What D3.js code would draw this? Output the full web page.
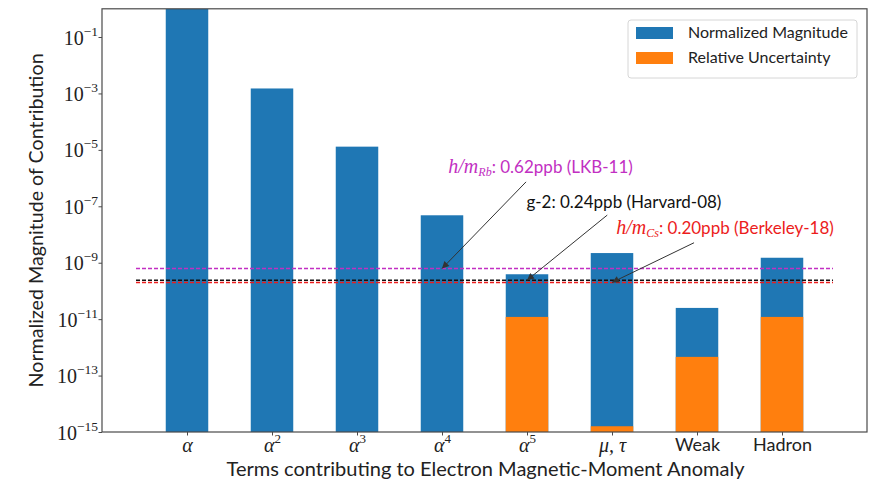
<!DOCTYPE html>
<html>
<head>
<meta charset="utf-8">
<script src="https://cdn.jsdelivr.net/npm/d3@7/dist/d3.min.js"></script>
<style>
  body { margin: 0; background: #fff; }
  svg { display: block; }
</style>
</head>
<body>
<svg id="chart" width="876" height="479"></svg>
<script>
// Terms of the electron anomaly ("^" marks an exponent)
const terms = ["α", "α^2", "α^3", "α^4", "α^5", "μ, τ", "Weak", "Hadron"];
// Size of each term relative to the full anomaly
const magnitude = [1, 1.5e-3, 1.3e-5, 4.8e-8, 3.9e-10, 2.2e-9, 2.5e-11, 1.5e-9];
// Relative uncertainty of each term (null where none is shown)
const uncertainty = [null, null, null, null, 1.2e-11, 1.6e-15, 4.6e-13, 1.2e-11];
// Labelled decades on the log axis
const yTickValues = [1e-1, 1e-3, 1e-5, 1e-7, 1e-9, 1e-11, 1e-13, 1e-15];

// Reference precisions (fraction), with their labels
const refValues = [6.2e-10, 2.4e-10, 2.0e-10];
const refColors = ["#c22fc2", "#111111", "#ec1c1c"];
const refMath = ["Rb", null, "Cs"];
const refText = [": 0.62ppb (LKB-11)", "g-2: 0.24ppb (Harvard-08)", ": 0.20ppb (Berkeley-18)"];
const refTarget = [3, 4, 5];
const refTextX = [4.16, 5.14, 6.33];
const refTextY = [2.3e-6, 1.3e-7, 1.6e-8];
const refSpan = [-0.6, 7.6];

const seriesNames = ["Normalized Magnitude", "Relative Uncertainty"];
const seriesColors = ["#1f77b4", "#ff7f0e"];

const svg = d3.select("#chart");
const M = { left: 102, right: 867, top: 8.8, bottom: 432 };

const x = d3.scaleLinear().domain([-1, 8]).range([M.left, M.right]);
const y = d3.scaleLog().domain([1e-15, 1]).range([M.bottom, M.top]);
const barW = x(0.5) - x(0);

const serif = "'Liberation Serif', 'DejaVu Serif', serif";
const sans = "Lato, 'Open Sans', 'DejaVu Sans', sans-serif";

const defs = svg.append("defs");
defs.append("clipPath").attr("id", "plot-clip")
  .append("rect").attr("x", M.left).attr("y", M.top)
  .attr("width", M.right - M.left).attr("height", M.bottom - M.top);

const plot = svg.append("g").attr("clip-path", "url(#plot-clip)");

// Blue magnitude bars
plot.selectAll("rect.mag").data(magnitude).join("rect")
  .attr("class", "mag")
  .attr("x", (d, i) => x(i) - barW / 2)
  .attr("width", barW)
  .attr("y", d => y(d))
  .attr("height", d => M.bottom - y(d))
  .attr("fill", seriesColors[0]);

// Orange uncertainty bars overlaid from the baseline
const uncData = uncertainty.map((v, i) => ({ v, i })).filter(d => d.v !== null);
plot.selectAll("rect.unc").data(uncData).join("rect")
  .attr("class", "unc")
  .attr("x", d => x(d.i) - barW / 2)
  .attr("width", barW)
  .attr("y", d => y(d.v))
  .attr("height", d => M.bottom - y(d.v))
  .attr("fill", seriesColors[1]);

// Dashed reference lines
plot.selectAll("line.ref").data(refValues).join("line")
  .attr("class", "ref")
  .attr("x1", x(refSpan[0])).attr("x2", x(refSpan[1]))
  .attr("y1", d => y(d)).attr("y2", d => y(d))
  .attr("stroke", (d, i) => refColors[i])
  .attr("stroke-width", 1.5)
  .attr("stroke-dasharray", "4,2");

// Frame
svg.append("rect").attr("x", M.left).attr("y", M.top)
  .attr("width", M.right - M.left).attr("height", M.bottom - M.top)
  .attr("fill", "none").attr("stroke", "#4a4a4a").attr("stroke-width", 1.2);

// Y axis
const yAxis = d3.axisLeft(y).tickValues(yTickValues).tickSize(3.5).tickFormat(() => "");
const yG = svg.append("g").attr("transform", `translate(${M.left},0)`).call(yAxis);
yG.select(".domain").remove();
yG.selectAll(".tick line").attr("stroke", "#4a4a4a");
yG.selectAll(".tick").each(function (d) {
  const t = d3.select(this).append("text")
    .attr("x", -4).attr("y", 7).attr("text-anchor", "end")
    .attr("fill", "#222").attr("font-family", serif).attr("font-size", 20);
  t.append("tspan").text("10");
  t.append("tspan").attr("font-size", 13.5).attr("dy", -9)
    .text("−" + Math.round(-Math.log10(d)));
});

// X axis
const xAxis = d3.axisBottom(x).tickValues(d3.range(terms.length)).tickSize(3.5).tickFormat(() => "");
const xG = svg.append("g").attr("transform", `translate(0,${M.bottom})`).call(xAxis);
xG.select(".domain").remove();
xG.selectAll(".tick line").attr("stroke", "#4a4a4a");
xG.selectAll(".tick").each(function (d) {
  const label = terms[d];
  const isMath = !/^[A-Z]/.test(label);
  const t = d3.select(this).append("text")
    .attr("y", 20).attr("text-anchor", "middle").attr("fill", "#222");
  if (isMath) {
    const [base, pow] = label.split("^");
    t.attr("font-family", serif).attr("font-size", 20);
    t.append("tspan").attr("font-style", "italic").text(base);
    if (pow) t.append("tspan").attr("font-size", 13).attr("dy", -9).text(pow);
  } else {
    t.attr("font-family", sans).attr("font-size", 18).attr("y", 19).text(label);
  }
});

// Axis titles
svg.append("text")
  .attr("x", (M.left + M.right) / 2 + 1).attr("y", 476)
  .attr("text-anchor", "middle").attr("font-family", sans).attr("font-size", 19)
  .attr("fill", "#222")
  .attr("textLength", 518).attr("lengthAdjust", "spacingAndGlyphs")
  .text("Terms contributing to Electron Magnetic-Moment Anomaly");

svg.append("text")
  .attr("transform", `translate(43,${(M.top + M.bottom) / 2}) rotate(-90)`)
  .attr("text-anchor", "middle").attr("font-family", sans).attr("font-size", 20)
  .attr("fill", "#222")
  .attr("textLength", 334).attr("lengthAdjust", "spacingAndGlyphs")
  .text("Normalized Magnitude of Contribution");

// Annotations with arrows
defs.append("marker").attr("id", "arrowhead")
  .attr("viewBox", "0 0 10 10").attr("refX", 10).attr("refY", 5)
  .attr("markerWidth", 9).attr("markerHeight", 7)
  .attr("markerUnits", "userSpaceOnUse").attr("orient", "auto")
  .append("path").attr("d", "M0,0 L10,5 L0,10 z").attr("fill", "#333");

refValues.forEach((v, i) => {
  const cx = x(refTextX[i]), cy = y(refTextY[i]);
  const t = svg.append("text")
    .attr("x", cx).attr("y", cy + 5)
    .attr("text-anchor", "middle")
    .attr("fill", refColors[i]).attr("font-size", 17).attr("font-family", sans);
  if (refMath[i]) {
    t.append("tspan").attr("font-family", serif).attr("font-style", "italic")
      .attr("font-size", 20).text("h/m");
    t.append("tspan").attr("font-family", serif).attr("font-style", "italic")
      .attr("font-size", 12).attr("dy", 3).text(refMath[i]);
    t.append("tspan").attr("dy", -3).text(refText[i]);
  } else {
    t.text(refText[i]);
  }
  const bb = t.node().getBBox();
  const tx = x(refTarget[i]), ty = y(v);
  // start the arrow where the line to the target leaves the padded text box
  const bx = bb.x + bb.width / 2, by = bb.y + bb.height / 2;
  const dx = tx - bx, dy = ty - by;
  const halfW = bb.width / 2 + 3, halfH = bb.height / 2 + 3;
  const s = Math.min(halfW / Math.abs(dx), halfH / Math.abs(dy));
  svg.append("line")
    .attr("x1", bx + dx * s).attr("y1", by + dy * s)
    .attr("x2", tx).attr("y2", ty)
    .attr("stroke", "#333").attr("stroke-width", 1)
    .attr("marker-end", "url(#arrowhead)");
});

// Legend
const lg = svg.append("g").attr("transform", "translate(628,20)");
lg.append("rect").attr("width", 229).attr("height", 58).attr("rx", 3)
  .attr("fill", "#fff").attr("stroke", "#d6d6d6").attr("stroke-width", 1);
seriesNames.forEach((name, i) => {
  lg.append("rect").attr("x", 8).attr("y", 7 + i * 25).attr("width", 37).attr("height", 12)
    .attr("fill", seriesColors[i]);
  lg.append("text").attr("x", 60).attr("y", 18 + i * 25)
    .attr("font-family", sans).attr("font-size", 16).attr("fill", "#222")
    .text(name);
});
</script>
</body>
</html>
